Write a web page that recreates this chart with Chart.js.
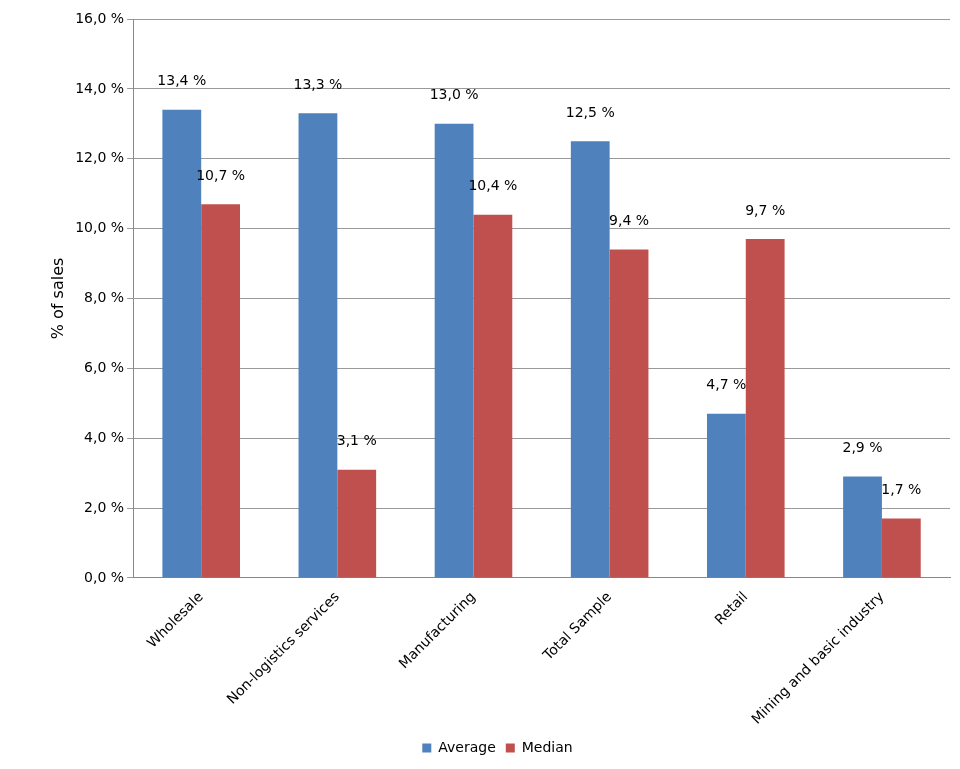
<!DOCTYPE html>
<html><head><meta charset="utf-8">
<script src="https://cdn.jsdelivr.net/npm/chart.js@4/dist/chart.umd.min.js"></script>
<style>html,body{margin:0;background:#fff}#w{width:960px;height:769px}</style>
</head><body><div id="w"><canvas id="c"></canvas></div>
<script>
const categories=["Wholesale","Non-logistics services","Manufacturing","Total Sample","Retail","Mining and basic industry"];
const average=[13.4,13.3,13.0,12.5,4.7,2.9];
const median=[10.7,3.1,10.4,9.4,9.7,1.7];
const yTicks=[0,2,4,6,8,10,12,14,16];
const fmt=v=>v.toFixed(1).replace('.',',')+' %';
const labelPlugin={id:'lbl',afterDatasetsDraw(ch){const ctx=ch.ctx;ctx.save();ctx.font='14px "DejaVu Sans"';ctx.fillStyle='#000';ctx.textAlign='center';ctx.textBaseline='middle';
ch.data.datasets.forEach((d,i)=>{ch.getDatasetMeta(i).data.forEach((b,j)=>{ctx.fillText(fmt(d.data[j]),b.x,b.y-28);});});ctx.restore();}};
new Chart(document.getElementById('c'),{type:'bar',
data:{labels:categories,datasets:[
{label:'Average',data:average,backgroundColor:'#4F81BD'},
{label:'Median',data:median,backgroundColor:'#C0504D'}]},
options:{responsive:true,maintainAspectRatio:false,animation:false,
layout:{padding:{top:19,right:10,left:45,bottom:4}},
datasets:{bar:{categoryPercentage:0.57,barPercentage:1}},
plugins:{legend:{position:'bottom',labels:{boxWidth:9,boxHeight:9,font:{family:'DejaVu Sans',size:14},color:'#000'}},tooltip:{enabled:false}},
scales:{
x:{grid:{display:false},border:{color:'#888'},ticks:{color:'#000',maxRotation:45,minRotation:45,font:{family:'DejaVu Sans',size:14}}},
y:{min:0,max:16,afterBuildTicks:a=>{a.ticks=yTicks.map(v=>({value:v}));},
grid:{color:'#999',tickLength:6},border:{color:'#888'},
title:{display:true,text:'% of sales',color:'#000',font:{family:'DejaVu Sans',size:16}},
ticks:{color:'#000',font:{family:'DejaVu Sans',size:14},callback:v=>fmt(v)}}}},
plugins:[labelPlugin]});
</script></body></html>
